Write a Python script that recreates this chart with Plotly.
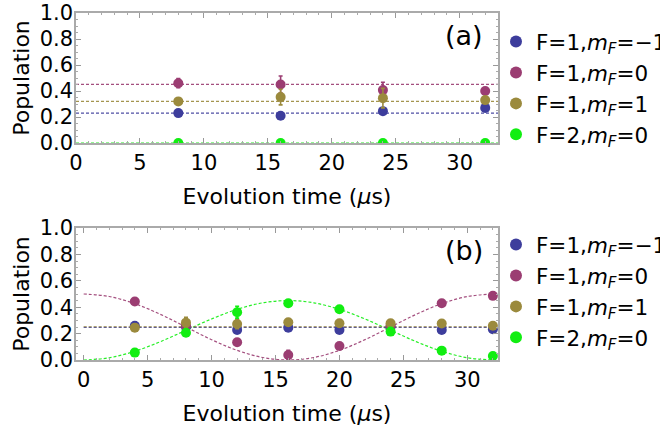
import plotly.graph_objects as go

# ---------------- data ----------------
names = ["F=1,<i>m<sub>F</sub></i>=−1", "F=1,<i>m<sub>F</sub></i>=0",
         "F=1,<i>m<sub>F</sub></i>=1", "F=2,<i>m<sub>F</sub></i>=0"]
colors = ["#3d3d9c", "#9b3d72", "#9b8a3d", "#11ee11"]

# panel (a)
t_a = [8, 16, 24, 32]
a_m1 = [0.23, 0.21, 0.245, 0.27]
a_m0 = [0.46, 0.45, 0.407, 0.40]
a_p1 = [0.32, 0.353, 0.345, 0.33]
a_f2 = [0.0, 0.0, 0.0, 0.0]
err_a_m1 = [0.012, 0.012, 0.012, 0.012]
err_a_m0 = [0.035, 0.065, 0.06, 0.012]
err_a_p1 = [0.012, 0.06, 0.075, 0.012]
err_a_f2 = [0.004, 0.004, 0.004, 0.004]
fit_t_a = [0, 33]
fit_a_levels = [0.23, 0.451, 0.32, 0.0]

# panel (b)
t_b = [4, 8, 12, 16, 20, 24, 28, 32]
b_m1 = [0.26, 0.25, 0.228, 0.245, 0.228, 0.25, 0.228, 0.233]
b_m0 = [0.443, 0.26, 0.134, 0.038, 0.106, 0.26, 0.43, 0.486]
b_p1 = [0.245, 0.283, 0.273, 0.286, 0.279, 0.279, 0.276, 0.26]
b_f2 = [0.056, 0.207, 0.362, 0.43, 0.385, 0.215, 0.071, 0.03]
err_b_m1 = [0.012] * 8
err_b_m0 = [0.012, 0.012, 0.012, 0.035, 0.012, 0.012, 0.012, 0.012]
err_b_p1 = [0.012, 0.04, 0.035, 0.012, 0.012, 0.012, 0.012, 0.012]
err_b_f2 = [0.012, 0.012, 0.045, 0.012, 0.012, 0.012, 0.012, 0.012]
fit_t_b_flat = [0, 32.4]
fit_b_levels = [0.247, 0.252]          # m_F=-1, m_F=+1
fit_t_b = [0, 2, 4, 6, 8, 10, 12, 14, 16, 18, 20, 22, 24, 26, 28, 30, 32]
fit_b_m0 = [0.5, 0.481, 0.427, 0.346, 0.25, 0.154, 0.073, 0.019, 0.0,
            0.019, 0.073, 0.154, 0.25, 0.346, 0.427, 0.481, 0.5]
fit_b_f2 = [0.0, 0.017, 0.066, 0.139, 0.225, 0.311, 0.384, 0.433, 0.45,
            0.433, 0.384, 0.311, 0.225, 0.139, 0.066, 0.017, 0.0]

FONT = "DejaVu Sans"
fig = go.Figure()

def dashed(x, y, color, xa, ya, shape="linear"):
    fig.add_trace(go.Scatter(x=x, y=y, mode="lines", xaxis=xa, yaxis=ya,
                             line=dict(color=color, width=1.2, dash="3px,2px", shape=shape),
                             opacity=0.9, showlegend=False, hoverinfo="skip"))

def points(x, y, err, color, name, xa, ya, legend):
    fig.add_trace(go.Scatter(x=x, y=y, mode="markers", xaxis=xa, yaxis=ya, name=name,
                             marker=dict(color=color, size=10),
                             error_y=dict(type="data", array=err, color=color,
                                          thickness=1.6, width=2),
                             legend=legend))

# panel (a) lines
for lvl, c in zip(fit_a_levels, colors):
    dashed(fit_t_a, [lvl, lvl], c, "x", "y")
# panel (b) lines
dashed(fit_t_b, fit_b_m0, colors[1], "x2", "y2", "spline")
dashed(fit_t_b, fit_b_f2, colors[3], "x2", "y2", "spline")
dashed(fit_t_b_flat, [fit_b_levels[0]] * 2, colors[0], "x2", "y2")
dashed(fit_t_b_flat, [fit_b_levels[1]] * 2, colors[2], "x2", "y2")

for y, e, c, n in zip([a_m1, a_m0, a_p1, a_f2], [err_a_m1, err_a_m0, err_a_p1, err_a_f2], colors, names):
    points(t_a, y, e, c, n, "x", "y", "legend")
for y, e, c, n in zip([b_m1, b_m0, b_p1, b_f2], [err_b_m1, err_b_m0, err_b_p1, err_b_f2], colors, names):
    points(t_b, y, e, c, n, "x2", "y2", "legend2")

W, H = 660, 432
def px(v):
    return v / W
def py(v):
    return 1 - v / H

xdom = [px(76), px(498)]

def xaxis(rng, anchor):
    return dict(domain=xdom, range=rng, anchor=anchor, dtick=5, tick0=0,
                ticks="inside", ticklen=5, tickcolor="#999", tickwidth=1,
                minor=dict(ticks="inside", dtick=1, ticklen=2.5, tickcolor="#aaa"),
                showline=True, linecolor="#aaa", linewidth=1.5, mirror="ticks",
                showgrid=False, zeroline=False, automargin=False,
                tickfont=dict(family=FONT, size=21, color="black"),
                title=dict(text="Evolution time (<i>μ</i>s)", standoff=15,
                           font=dict(family=FONT, size=22, color="black")))

def yaxis(dom, anchor):
    return dict(domain=dom, range=[0, 1], anchor=anchor, dtick=0.2, tick0=0,
                tickformat=".1f",
                ticks="inside", ticklen=5, tickcolor="#999", tickwidth=1,
                minor=dict(ticks="inside", dtick=0.05, ticklen=2.5, tickcolor="#aaa"),
                showline=True, linecolor="#aaa", linewidth=1.5, mirror="ticks",
                showgrid=False, zeroline=False, automargin=False,
                ticklabelstandoff=-3,
                tickfont=dict(family=FONT, size=21, color="black"),
                title=dict(text="Population", standoff=4,
                           font=dict(family=FONT, size=22, color="black")))

legfont = dict(family=FONT, size=21.5, color="black")
fig.update_layout(
    width=W, height=H,
    margin=dict(l=0, r=0, t=0, b=0, autoexpand=False),
    paper_bgcolor="white", plot_bgcolor="white",
    xaxis=xaxis([0, 33], "y"),
    yaxis=yaxis([py(143), py(13)], "x"),
    xaxis2=xaxis([-0.6, 32.4], "y2"),
    yaxis2=yaxis([py(360), py(228)], "x2"),
    legend=dict(x=px(496), y=py(21), xanchor="left", yanchor="top",
                font=legfont, bgcolor="rgba(0,0,0,0)", tracegroupgap=0,
                itemsizing="constant"),
    legend2=dict(x=px(496), y=py(224), xanchor="left", yanchor="top",
                 font=legfont, bgcolor="rgba(0,0,0,0)", tracegroupgap=0,
                 itemsizing="constant"),
    annotations=[
        dict(text="(a)", xref="x domain", yref="y domain", x=0.97, y=0.96,
             xanchor="right", yanchor="top", showarrow=False,
             font=dict(family=FONT, size=27, color="black")),
        dict(text="(b)", xref="x2 domain", yref="y2 domain", x=0.97, y=0.96,
             xanchor="right", yanchor="top", showarrow=False,
             font=dict(family=FONT, size=27, color="black")),
    ],
)

fig.write_html("out.html", config={"displayModeBar": False},
               post_script="document.body.style.margin='0';document.body.style.overflow='hidden';")
